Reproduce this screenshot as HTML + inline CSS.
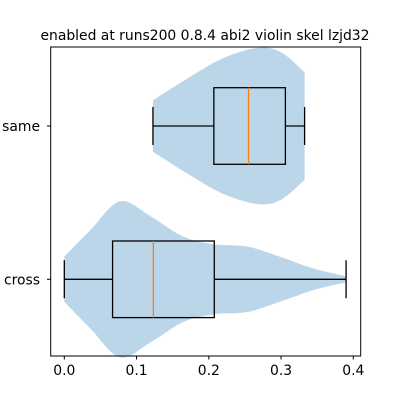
<!DOCTYPE html>
<html><head><meta charset="utf-8"><style>body{margin:0;background:#fff}svg{display:block}text{font-family:"DejaVu Sans","Liberation Sans",sans-serif}</style></head>
<body>
<svg id="c" width="400" height="400" viewBox="0 0 400 400">
<text x="205" y="40" font-size="13.9" text-anchor="middle">enabled at runs200 0.8.4 abi2 violin skel lzjd32</text>
<g id="plot"></g>
<rect x="50.7" y="47" width="310" height="309" fill="none" stroke="#000" stroke-width="1"/>
</svg>
<script>
const categories=["same","cross"];
const densX=[[0.1227,0.174,0.22,0.267,0.299,0.3326],[0,0.036,0.077,0.119,0.164,0.206,0.253,0.298,0.344,0.39]];
const densW=[[0.33,0.63,0.87,1.0,0.95,0.69],[0.29,0.63,1.0,0.81,0.55,0.45,0.42,0.29,0.14,0.04]];
const whiskLo=[0.1227,0];
const whiskHi=[0.3326,0.390];
const q1=[0.207,0.0668];
const q3=[0.306,0.2076];
const medians=[0.255,0.1232];
const xTicks=[0,0.1,0.2,0.3,0.4];
const xTickLabels=["0.0","0.1","0.2","0.3","0.4"];
const NS="http://www.w3.org/2000/svg";
const X=v=>64.3+v*722.5;
const rowY=[126,279.3];
const maxHalf=78, boxHalf=38.3, capHalf=19;
const g=document.getElementById('plot');
function mk(t,a,p){const e=document.createElementNS(NS,t);for(const k in a)e.setAttribute(k,a[k]);(p||g).appendChild(e);return e;}
function smooth(pts){let d="M"+pts[0][0]+","+pts[0][1];for(let i=0;i<pts.length-1;i++){const p0=pts[Math.max(0,i-1)],p1=pts[i],p2=pts[i+1],p3=pts[Math.min(pts.length-1,i+2)];d+=" C"+(p1[0]+(p2[0]-p0[0])/6)+","+(p1[1]+(p2[1]-p0[1])/6)+" "+(p2[0]-(p3[0]-p1[0])/6)+","+(p2[1]-(p3[1]-p1[1])/6)+" "+p2[0]+","+p2[1];}return d;}
categories.forEach((c,i)=>{
 const y=rowY[i];
 const top=densX[i].map((v,j)=>[X(v),y-densW[i][j]*maxHalf]);
 const bot=densX[i].map((v,j)=>[X(v),y+densW[i][j]*maxHalf]).reverse();
 let d=smooth(top)+" L"+bot[0][0]+","+bot[0][1]+smooth(bot).replace(/^M[^ C]+/,"")+" Z";
 const v=mk('path',{d:d,fill:'#1f77b4','fill-opacity':0.3});
 
 
 const wl=mk('path',{d:`M${X(whiskLo[i])},${y}H${X(q1[i])}M${X(q3[i])},${y}H${X(whiskHi[i])}M${X(whiskLo[i])},${y-capHalf}V${y+capHalf}M${X(whiskHi[i])},${y-capHalf}V${y+capHalf}`,stroke:'#000','stroke-width':1.3,fill:'none'});
 
 
 const b=mk('rect',{x:X(q1[i]),y:y-boxHalf,width:X(q3[i])-X(q1[i]),height:2*boxHalf,fill:'none',stroke:'#000','stroke-width':1.3});
 
 
 const m=mk('line',{x1:X(medians[i]),x2:X(medians[i]),y1:y-boxHalf,y2:y+boxHalf,stroke:'#ff7f0e','stroke-width':1.3});
 
 
 const t=mk('line',{x1:47,x2:50.7,y1:y,y2:y,stroke:'#000'});
 
 
 const l=mk('text',{x:40,y:y+5,'font-size':13.9,'text-anchor':'end'});l.textContent=c;
 
 
});
xTicks.forEach((v,i)=>{
 const t=mk('line',{x1:X(v),x2:X(v),y1:356,y2:359.5,stroke:'#000'});
 
 
 const l=mk('text',{x:X(v),y:375,'font-size':13.9,'text-anchor':'middle'});l.textContent=xTickLabels[i];
 
 
});
</script>
</body></html>
